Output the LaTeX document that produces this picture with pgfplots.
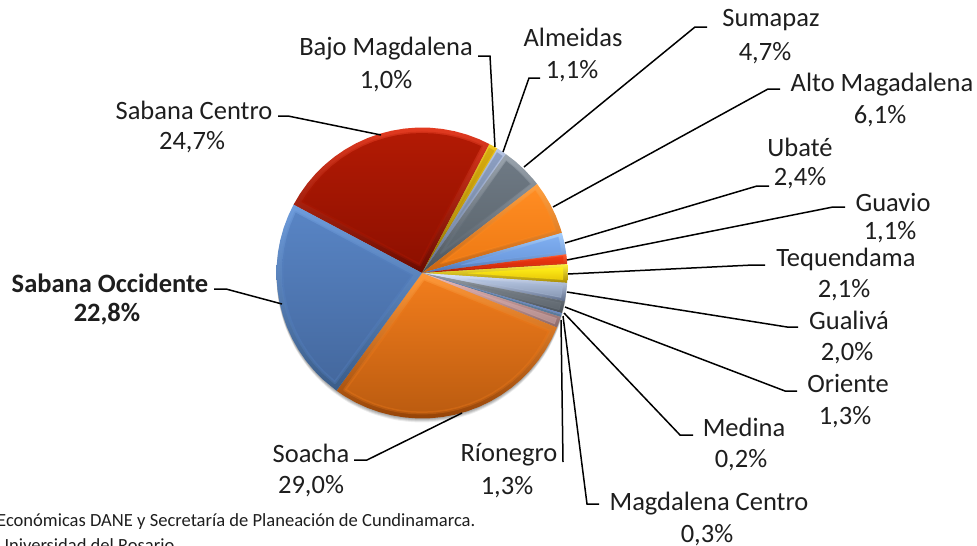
\documentclass[border=0pt]{standalone}
\usepackage{pgfplots}
\pgfplotsset{compat=1.18}
\usepackage{fontspec}
\setmainfont{Carlito}
\newcommand{\dc}[1]{\definecolor{#1}{HTML}{#1}}
\dc{E23A20}\dc{6A0A00}\dc{B21A04}\dc{8E1000}
\dc{F0C820}\dc{8A6A00}\dc{D8AC10}\dc{B08A08}
\dc{B8C6E4}\dc{5E6E8E}\dc{8C9EC2}\dc{76889E}
\dc{9AA4AE}\dc{4A525A}\dc{6E7984}\dc{5C666E}
\dc{FFA040}\dc{C86410}\dc{FF8C22}\dc{EE7A14}
\dc{A8D0FF}\dc{4A74B8}\dc{7FAEF0}\dc{6A98DC}
\dc{FF5A30}\dc{A81800}\dc{F03A14}\dc{D02808}
\dc{FFF040}\dc{A88A00}\dc{FFEE18}\dc{E8C808}
\dc{DCE8FF}\dc{5E6E8C}\dc{B4C4E0}\dc{8898B4}
\dc{98A0A8}\dc{485058}\dc{788088}\dc{5E666E}
\dc{F0BEBE}\dc{8A6868}\dc{D4A8A8}\dc{B08C8C}
\dc{FF9838}\dc{964408}\dc{F07C1C}\dc{BC5C10}
\dc{6E9CDC}\dc{3A5C88}\dc{5884C4}\dc{44689E}
\dc{6A88C0}\dc{5A7A9A}\dc{1E1E1E}
\newcommand{\wedgeplot}[7][0.8pt]{%
  \addplot[draw=none,top color=#2,bottom color=#3,data cs=polar] coordinates {#6} --cycle;
  \addplot[draw=#4,draw opacity=.3,line width=#1,line join=round,top color=#4,bottom color=#5,data cs=polar] coordinates {#7} --cycle;
}
\pgfplotstableread{
a r
0 145.5
10 145.5
20 145.5
30 145.5
40 145.5
50 145.5
60 145.5
70 145.5
80 145.5
90 145.5
100 145.5
110 145.5
120 145.5
130 145.5
140 145.5
150 145.5
160 145.5
170 145.5
180 145.5
190 145.5
200 145.5
210 145.5
220 145.5
230 145.5
240 145.5
250 145.5
260 145.5
270 145.5
280 145.5
290 145.5
300 145.5
310 145.5
320 145.5
330 145.5
340 145.5
350 145.5
}\disc
\pgfplotsset{canvas/.style={hide axis,scale only axis,width=977pt,height=546pt,clip=false,axis line style={draw=none},at={(0,0)},anchor=south west}}
\tikzset{lab/.style={font=\fontsize{26.5}{26.5}\selectfont,inner sep=0pt,text=1E1E1E,anchor=center},
  foot/.style={font=\fontsize{18.55}{18.55}\selectfont,inner sep=0pt,text=1E1E1E,anchor=west},
  ldr/.style={black,line width=1.5pt,mark=none,solid}}
\begin{document}
\begin{tikzpicture}[x=1pt,y=1pt]
\path[use as bounding box] (0,0) rectangle (977pt,546pt);
\clip (0,0) rectangle (977pt,546pt);
\begin{axis}[canvas,xmin=-422,xmax=555,ymin=-273,ymax=273]
% soft shadow
\addplot[draw=none,fill=black,fill opacity=.10,yshift=-1pt,smooth,data cs=polar] table[x=a,y=r] {\disc} --cycle;
\addplot[draw=none,fill=black,fill opacity=.10,yshift=-2pt,smooth,data cs=polar] table[x=a,y=r] {\disc} --cycle;
\addplot[draw=none,fill=black,fill opacity=.10,yshift=-3pt,smooth,data cs=polar] table[x=a,y=r] {\disc} --cycle;
\addplot[draw=none,fill=black,fill opacity=.07,yshift=-4pt,smooth,data cs=polar] table[x=a,y=r] {\disc} --cycle;
% Sabana Centro 24,7
\wedgeplot[3pt]{E23A20}{6A0A00}{B21A04}{8E1000}
{(0,0)(152,145.5)(147,145.5)(142,145.5)(137,145.5)(132,145.5)(127,145.5)(122,145.5)(117,145.5)(112,145.5)(107,145.5)(102,145.5)(97,145.5)(92,145.5)(87,145.5)(82,145.5)(77,145.5)(72,145.5)(67,145.5)(62.4,145.5)}
{(107.2,8.5)(149.5,140)(145,140)(140,140)(135,140)(130,140)(125,140)(120,140)(115,140)(110,140)(105,140)(100,140)(95,140)(90,140)(85,140)(80,140)(75,140)(70,140)(64.9,140)}
% Bajo Magdalena 1,0
\wedgeplot{F0C820}{8A6A00}{D8AC10}{B08A08}
{(0,0)(62.4,145.5)(60.6,145.5)(58.8,145.5)}
{(60.6,48)(61.8,142)(59.4,142)}
% Almeidas 1,1
\wedgeplot{B8C6E4}{5E6E8E}{8C9EC2}{76889E}
{(0,0)(58.8,145.5)(56.8,145.5)(54.8,145.5)}
{(56.8,43)(58.1,142)(55.5,142)}
% Sumapaz 4,7
\wedgeplot[2pt]{9AA4AE}{4A525A}{6E7984}{5C666E}
{(0,0)(54.8,145.5)(50,145.5)(45,145.5)(40,145.5)(37.7,145.5)}
{(46.25,27)(53,140)(49,140)(45,140)(41,140)(39.5,140)}
% Alto Magdalena 6,1
\wedgeplot[2pt]{FFA040}{C86410}{FF8C22}{EE7A14}
{(0,0)(37.7,145.5)(33,145.5)(28,145.5)(23,145.5)(18,145.5)(16,145.5)}
{(26.85,21)(36,140)(32,140)(27,140)(22,140)(17.7,140)}
% Ubate 2,4
\wedgeplot{A8D0FF}{4A74B8}{7FAEF0}{6A98DC}
{(0,0)(16,145.5)(12,145.5)(7.4,145.5)}
{(11.7,40)(14.8,141)(11.7,141)(8.6,141)}
% Guavio 1,1
\wedgeplot{FF5A30}{A81800}{F03A14}{D02808}
{(0,0)(7.4,145.5)(5.5,145.5)(3.5,145.5)}
{(5.45,44)(6.8,142)(4.1,142)}
% Tequendama 2,1
\wedgeplot{FFF040}{A88A00}{FFEE18}{E8C808}
{(0,0)(3.5,145.5)(0,145.5)(-3.9,145.5)}
{(-0.2,46)(2.3,141)(-0.2,141)(-2.7,141)}
% Gualiva 2,0
\wedgeplot{DCE8FF}{5E6E8C}{B4C4E0}{8898B4}
{(0,0)(-3.9,145.5)(-7.5,145.5)(-11.2,145.5)}
{(-7.55,46)(-5.1,141)(-7.5,141)(-10,141)}
% Oriente 1,3
\wedgeplot{98A0A8}{485058}{788088}{5E666E}
{(0,0)(-11.2,145.5)(-13.6,145.5)(-16,145.5)}
{(-13.6,48)(-12.2,142)(-15,142)}
% Medina 0,2
\addplot[draw=none,fill=6A88C0,data cs=polar] coordinates {(0,0)(-16,145.5)(-16.7,145.5)} --cycle;
% Magdalena Centro 0,3
\addplot[draw=none,fill=5A7A9A,data cs=polar] coordinates {(0,0)(-16.7,145.5)(-17.6,145.5)} --cycle;
% Rionegro 1,3
\wedgeplot{F0BEBE}{8A6868}{D4A8A8}{B08C8C}
{(0,0)(-17.6,145.5)(-19.8,145.5)(-22,145.5)}
{(-19.8,52)(-18.6,142)(-21,142)}
% Soacha 29,0
\wedgeplot[3pt]{FF9838}{964408}{F07C1C}{BC5C10}
{(0,0)(338,145.5)(333,145.5)(328,145.5)(323,145.5)(318,145.5)(313,145.5)(308,145.5)(303,145.5)(298,145.5)(293,145.5)(288,145.5)(283,145.5)(278,145.5)(273,145.5)(268,145.5)(263,145.5)(258,145.5)(253,145.5)(248,145.5)(243,145.5)(238,145.5)(234,145.5)}
{(286,8)(335.5,140)(330,140)(325,140)(320,140)(315,140)(310,140)(305,140)(300,140)(295,140)(290,140)(285,140)(280,140)(275,140)(270,140)(265,140)(260,140)(255,140)(250,140)(245,140)(240,140)(236.5,140)}
% Sabana Occidente 22,8
\wedgeplot[3pt]{6E9CDC}{3A5C88}{5884C4}{44689E}
{(0,0)(152,145.5)(157,145.5)(162,145.5)(167,145.5)(172,145.5)(177,145.5)(182,145.5)(187,145.5)(192,145.5)(197,145.5)(202,145.5)(207,145.5)(212,145.5)(217,145.5)(222,145.5)(227,145.5)(234,145.5)}
{(193,9)(154.5,140)(160,140)(165,140)(170,140)(175,140)(180,140)(185,140)(190,140)(195,140)(200,140)(205,140)(210,140)(215,140)(220,140)(225,140)(231.5,140)}
\end{axis}
\begin{axis}[canvas,xmin=0,xmax=977,ymin=0,ymax=546,y dir=reverse]
\addplot[ldr] coordinates {(478,56)(490,56)(495,147)};
\addplot[ldr] coordinates {(540,78)(529,78)(503,152)};
\addplot[ldr] coordinates {(707,27)(695,27)(524,167)};
\addplot[ldr] coordinates {(780,89)(768,89)(553,207)};
\addplot[ldr] coordinates {(769,186)(757,186)(565,243)};
\addplot[ldr] coordinates {(845,207)(833,207)(567,260)};
\addplot[ldr] coordinates {(765,265)(753,265)(568,274)};
\addplot[ldr] coordinates {(798,327)(787,327)(567,292)};
\addplot[ldr] coordinates {(797,391)(785,391)(565,307)};
\addplot[ldr] coordinates {(693,435)(680,435)(564,313)};
\addplot[ldr] coordinates {(599,504)(587,504)(563,316)};
\addplot[ldr] coordinates {(563,462)(561,320)};
\addplot[ldr] coordinates {(354,460)(367,460)(462,413)};
\addplot[ldr] coordinates {(214,289)(226,289)(282,304)};
\addplot[ldr] coordinates {(278,116)(288,116)(381,135)};
\node[lab] at (axis cs:771,20) {Sumapaz};
\node[lab] at (axis cs:765,53) {4,7\%};
\node[lab] at (axis cs:882,85) {Alto Magadalena};
\node[lab] at (axis cs:880,116) {6,1\%};
\node[lab] at (axis cs:800,147) {Ubaté};
\node[lab] at (axis cs:800,178) {2,4\%};
\node[lab] at (axis cs:893,202) {Guavio};
\node[lab] at (axis cs:890,232) {1,1\%};
\node[lab] at (axis cs:846,259) {Tequendama};
\node[lab] at (axis cs:844,290) {2,1\%};
\node[lab] at (axis cs:849,320) {Gualivá};
\node[lab] at (axis cs:847,353) {2,0\%};
\node[lab] at (axis cs:848,383) {Oriente};
\node[lab] at (axis cs:845,417) {1,3\%};
\node[lab] at (axis cs:744,427) {Medina};
\node[lab] at (axis cs:741,460) {0,2\%};
\node[lab] at (axis cs:709,504) {Magdalena Centro};
\node[lab] at (axis cs:707,535) {0,3\%};
\node[lab] at (axis cs:509,455) {Ríonegro};
\node[lab] at (axis cs:507,487) {1,3\%};
\node[lab] at (axis cs:311,453) {Soacha};
\node[lab] at (axis cs:311,486) {29,0\%};
\node[lab] at (axis cs:110,283) {\bfseries Sabana Occidente};
\node[lab] at (axis cs:107,314) {\bfseries 22,8\%};
\node[lab] at (axis cs:194,110) {Sabana Centro};
\node[lab] at (axis cs:192,142) {24,7\%};
\node[lab] at (axis cs:386,49) {Bajo Magdalena};
\node[lab] at (axis cs:386,81) {1,0\%};
\node[lab] at (axis cs:573,37) {Almeidas};
\node[lab] at (axis cs:572,71) {1,1\%};
\node[foot] at (axis cs:-3,522) {Económicas DANE y Secretaría de Planeación de Cundinamarca.};
\node[foot] at (axis cs:-3,545) {Universidad del Rosario.};
\end{axis}
\end{tikzpicture}
\end{document}
